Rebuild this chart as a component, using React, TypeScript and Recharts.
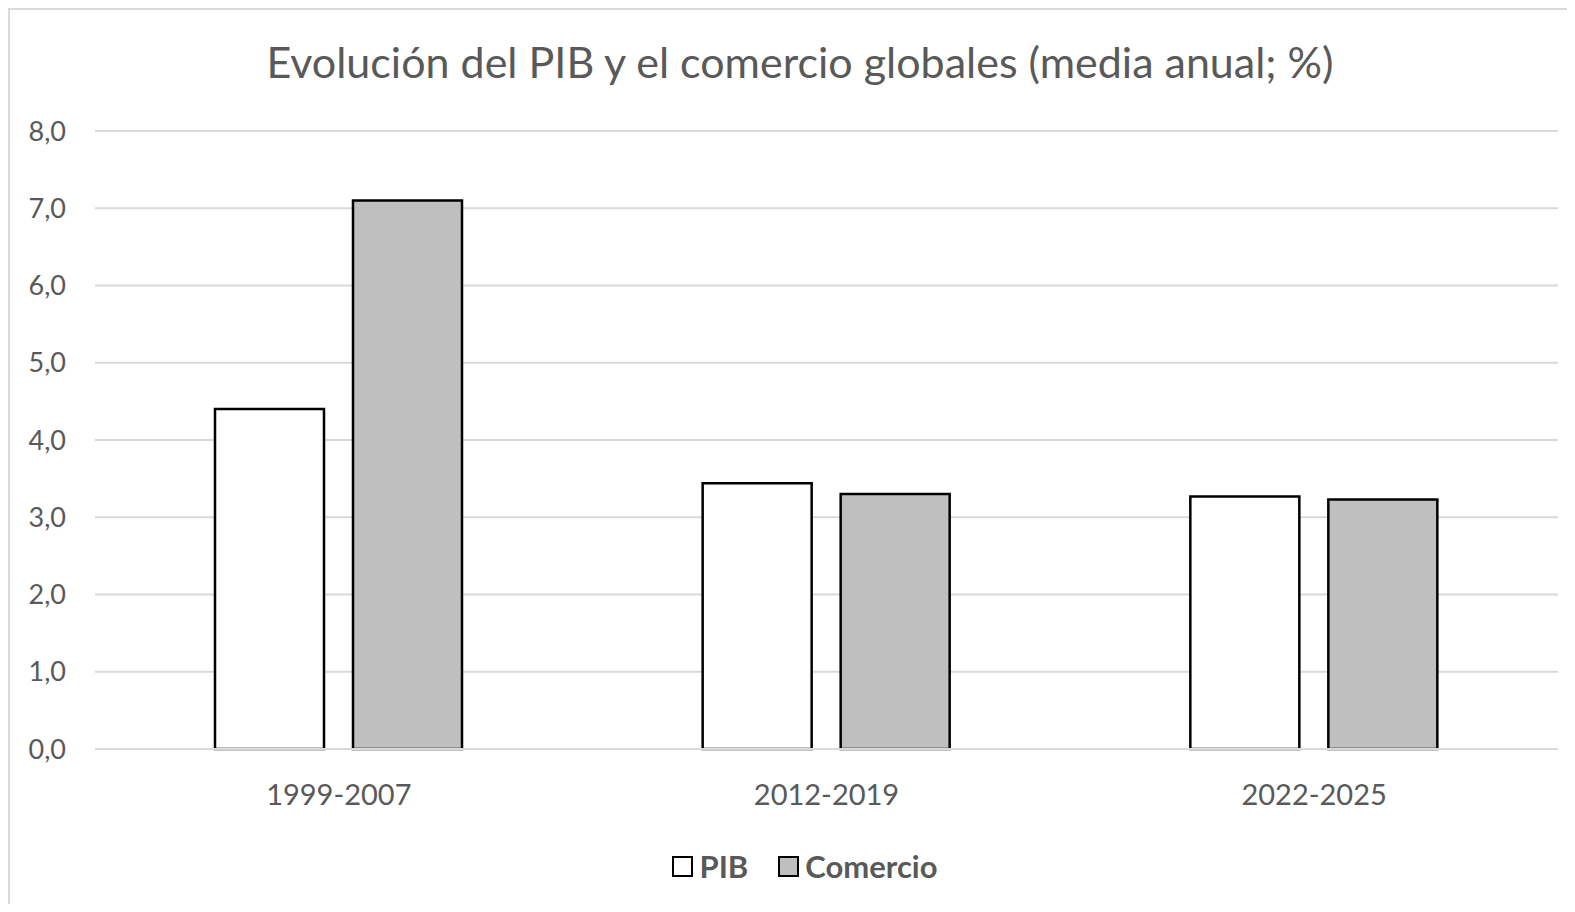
import { BarChart, Bar, XAxis, YAxis, CartesianGrid } from "recharts";

const periods = ["1999-2007", "2012-2019", "2022-2025"];
const pib = [4.4, 3.44, 3.27];
const comercio = [7.1, 3.3, 3.23];
const yTicks = [0, 1, 2, 3, 4, 5, 6, 7, 8];

const series = [
  { key: "PIB", fill: "#FFFFFF" },
  { key: "Comercio", fill: "#BFBFBF" },
];

const data = periods.map((p, i) => ({ period: p, PIB: pib[i], Comercio: comercio[i] }));

const font = "Lato, 'Open Sans', sans-serif";
const textColor = "#595959";

export default function App() {
  return (
    <div
      style={{
        position: "relative",
        width: 1567,
        height: 896,
        boxSizing: "border-box",
        borderTop: "2px solid #D9D9D9",
        borderLeft: "2px solid #D9D9D9",
        fontFamily: font,
        background: "#fff",
      }}
    >
      <div
        style={{
          position: "absolute",
          left: 0,
          top: 27,
          width: 1580,
          textAlign: "center",
          fontSize: 43,
          lineHeight: "50px",
          color: textColor,
        }}
      >
        Evolución del PIB y el comercio globales (media anual; %)
      </div>
      <BarChart
        width={1565}
        height={894}
        data={data}
        margin={{ top: 121, right: 17, left: 0, bottom: 95 }}
        barSize={109}
        barGap={29}
      >
        <CartesianGrid vertical={false} stroke="#D9D9D9" strokeWidth={2} />
        <XAxis
          dataKey="period"
          height={60}
          tickSize={0}
          tickMargin={35}
          axisLine={{ stroke: "#D9D9D9", strokeWidth: 2 }}
          tick={{ fill: textColor, fontSize: 29, fontFamily: font }}
        />
        <YAxis
          width={85}
          domain={[0, 8]}
          ticks={yTicks}
          interval={0}
          tickSize={0}
          tickMargin={29}
          axisLine={false}
          tickFormatter={(v: number) => v.toFixed(1).replace(".", ",")}
          tick={{ fill: textColor, fontSize: 27, fontFamily: font }}
        />
        {series.map((s) => (
          <Bar
            key={s.key}
            dataKey={s.key}
            fill={s.fill}
            stroke="#000"
            strokeWidth={2.5}
            isAnimationActive={false}
          />
        ))}
      </BarChart>
      <div
        style={{
          position: "absolute",
          left: 0,
          top: 837,
          width: 1590,
          display: "flex",
          justifyContent: "center",
          alignItems: "center",
          gap: 30,
          fontSize: 31,
          fontWeight: 700,
          color: textColor,
        }}
      >
        {series.map((s) => (
          <div key={s.key} style={{ display: "flex", alignItems: "center", gap: 6 }}>
            <span
              style={{
                display: "inline-block",
                width: 17,
                height: 17,
                background: s.fill,
                border: "2px solid #000",
              }}
            />
            <span>{s.key}</span>
          </div>
        ))}
      </div>
    </div>
  );
}
